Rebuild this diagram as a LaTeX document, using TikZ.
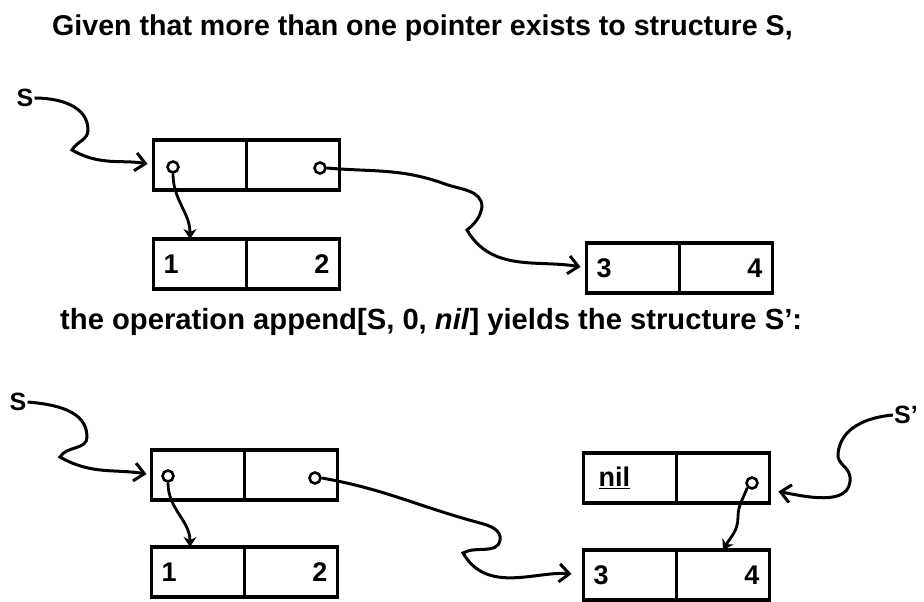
\documentclass[tikz,border=0pt]{standalone}
\usepackage{fontspec}
\setmainfont{Liberation Sans}
\usetikzlibrary{arrows.meta, positioning}

\begin{document}
\begin{tikzpicture}[
  x=1pt, y=1pt,
  title/.style={font=\fontsize{28.6}{32}\selectfont\bfseries, inner sep=0pt, anchor=base west},
  var/.style={font=\fontsize{25}{28}\selectfont\bfseries, inner sep=1pt},
  cell/.style={draw, line width=3.2pt, minimum width=93pt, minimum height=50pt,
               outer sep=0pt, inner xsep=10pt, text width=73pt,
               font=\fontsize{27}{30}\selectfont\bfseries},
  dot/.style={circle, draw, line width=2.6pt, fill=white, minimum size=11pt, inner sep=0pt},
  ptr/.style={line width=3pt, -{Straight Barb[length=10pt,width=18pt]}, shorten >=6pt},
  sub/.style={line width=2.8pt, -{Stealth[length=10pt,width=13pt]}}
]
\useasboundingbox (0,0) rectangle (924,602);

%% ---------- before: pointers to S ----------
\node[title] (given) at (52,566) {Given that more than one pointer exists to structure S,};

\node[var] (s) at (25,504) {S};
\node[cell] (a1) at (200,437) {};
\node[cell, right=0pt of a1] (a2) {};
\node[cell, align=left] (b1) at (200,338) {1};
\node[cell, align=right, right=0pt of b1] (b2) {2};
\node[cell, align=left] (c1) at (633,334) {3};
\node[cell, align=right, right=0pt of c1] (c2) {4};
\node[dot] (a1dot) at (173,435) {};
\node[dot] (a2dot) at (320,434) {};

\draw[ptr] (s.east) to[out=0,in=90] (88,472) to[out=-90,in=60] (72,452)
  to[out=-30,in=170] (a1.west);
\draw[sub] (a1dot.south) to[out=-90,in=90] ([xshift=-10pt]b1.north);
\draw[ptr] (a2dot.east) to[out=-5,in=160] (445,418) to[out=-20,in=90] (482,395)
  to[out=-100,in=40] (467,372) to[out=-60,in=170] (c1.west);

%% ---------- after: append[S, 0, nil] ----------
\node[title, font=\fontsize{29.2}{32}\selectfont\bfseries] (oper) at (60,272)
  {the operation append[S, 0, \textit{nil}] yields the structure S':};

\node[var] (t) at (18,200) {S};
\node[var] (tp) at (906,187) {S'};
\node[cell] (p1) at (198,127) {};
\node[cell, right=0pt of p1] (p2) {};
\node[cell, align=left] (q1) at (198,30) {1};
\node[cell, align=right, right=0pt of q1] (q2) {2};
\node[cell, align=left] (n1) at (630,124) {\hspace{5pt}{\fontsize{27}{30}\selectfont\underline{nil}}};
\node[cell, right=0pt of n1] (n2) {};
\node[cell, align=left] (r1) at (630,27) {3};
\node[cell, align=right, right=0pt of r1] (r2) {4};
\node[dot] (p1dot) at (168,126) {};
\node[dot] (p2dot) at (315,124) {};
\node[dot] (n2dot) at (752,119) {};

\draw[ptr, shorten >=5pt] (t.east) to[out=-5,in=90] (87,165) to[out=-90,in=60] (60,145)
  to[out=-30,in=170] (p1.west);
\draw[sub] (p1dot.south) to[out=-90,in=90] ([xshift=-8pt]q1.north);
\draw[ptr, shorten >=12pt] (p2dot.east) to[out=-10,in=165] (480,79) to[out=-15,in=80] (500,62)
  to[out=-100,in=30] (463,49) to[out=-60,in=175] (r1.west);
\draw[sub] (n2dot.south west) to[out=-110,in=90] (738,85) to[out=-90,in=60] (r2.north);
\draw[ptr, shorten >=9pt] (tp.west) to[out=185,in=85] (838,148) to[out=-95,in=95] (850,125)
  to[out=-85,in=-10] ([yshift=-12pt]n2.east);
\end{tikzpicture}
\end{document}
